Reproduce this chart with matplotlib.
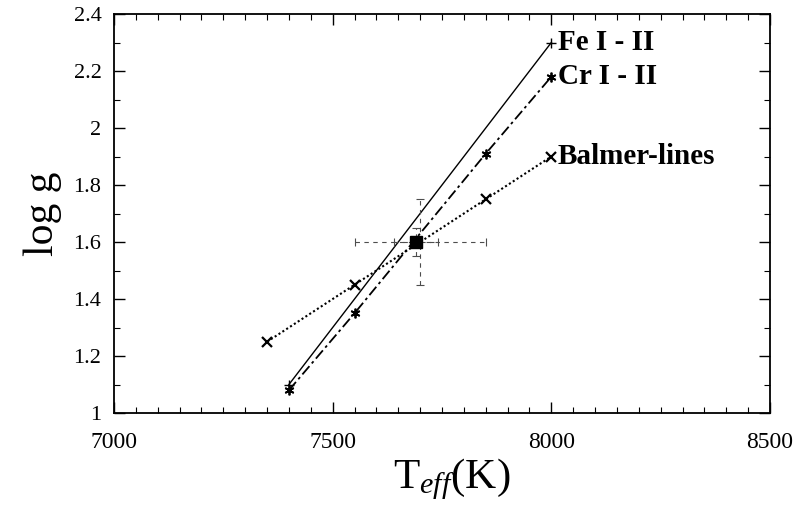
import numpy as np
import matplotlib
matplotlib.use('Agg')
from matplotlib import pyplot as plt
from matplotlib.ticker import MultipleLocator

plt.rcParams['font.family'] = ['Liberation Serif', 'DejaVu Serif']
plt.rcParams['mathtext.fontset'] = 'custom'
plt.rcParams['mathtext.rm'] = 'Liberation Serif'
plt.rcParams['mathtext.it'] = 'Liberation Serif:italic'

# Fe I - II ionisation balance
fe_teff = [7400, 8000]
fe_logg = [1.10, 2.30]
# Cr I - II ionisation balance
cr_teff = [7400, 7550, 7850, 8000]
cr_logg = [1.08, 1.35, 1.91, 2.18]
# Balmer lines
ba_teff = [7350, 7550, 7850, 8000]
ba_logg = [1.25, 1.45, 1.75, 1.90]
labels = ['Fe I - II', 'Cr I - II', 'Balmer-lines']

# adopted parameters
best_teff = 7690
best_logg = 1.60
best_dt, best_dg = 50, 0.05
wide_teff = 7700
wide_dt, wide_dg = 150, 0.15

fig = plt.figure(figsize=(8.01, 5.31), dpi=100)
ax = fig.add_axes([0.1423, 0.2222, 0.819, 0.7514])

ax.plot(fe_teff, fe_logg, color='k', lw=1.0, ls='-', marker='+', ms=7, mew=1)
ax.plot(cr_teff, cr_logg, color='k', lw=1.3, ls=(0, (6, 2, 1.5, 2)),
        marker=(6, 2, 0), ms=7, mew=1.3)
ax.plot(ba_teff, ba_logg, color='k', lw=1.5, ls=(0, (1, 1.2)),
        marker='x', ms=6.5, mew=1.6)

# error bars (dashed)
for tc, dt, dg in [(wide_teff, wide_dt, wide_dg), (best_teff, best_dt, best_dg)]:
    eb = ax.errorbar(tc, best_logg, xerr=dt, yerr=dg, fmt='none',
                     ecolor='0.3', elinewidth=0.8, capsize=3, capthick=0.8)
    for lc in eb[2]:
        lc.set_linestyle((0, (4, 4)))
ax.plot(best_teff, best_logg, marker='s', color='k', ms=9, ls='none')

for t, g, lab in zip([fe_teff[-1], cr_teff[-1], ba_teff[-1]],
                     [fe_logg[-1], cr_logg[-1], ba_logg[-1]], labels):
    ax.text(t + 15, g, lab, fontsize=21, fontweight='bold', va='center')

ax.set_xlim(7000, 8500)
ax.set_ylim(1.0, 2.4)
ax.xaxis.set_major_locator(MultipleLocator(500))
ax.xaxis.set_minor_locator(MultipleLocator(50))
ax.yaxis.set_minor_locator(MultipleLocator(0.1))
ax.set_yticks(np.arange(1.0, 2.41, 0.2))
ax.set_yticklabels(['1', '1.2', '1.4', '1.6', '1.8', '2', '2.2', '2.4'])
ax.tick_params(which='both', direction='in', top=True, right=True)
ax.tick_params(axis='x', labelsize=17, pad=14)
ax.tick_params(axis='y', labelsize=16, pad=9)
ax.tick_params(which='major', length=8, width=1)
ax.tick_params(which='minor', length=4, width=0.8)
for s in ax.spines.values():
    s.set_linewidth(1.3)

ax.set_xlabel(r'T$_{\mathit{eff}}$(K)', fontsize=31, labelpad=2)
ax.xaxis.set_label_coords(0.515, -0.11, transform=ax.transAxes)
ax.xaxis.label.set_va('top')
ax.set_ylabel('log g', fontsize=30, labelpad=8)

plt.savefig('out.png', dpi=100)
